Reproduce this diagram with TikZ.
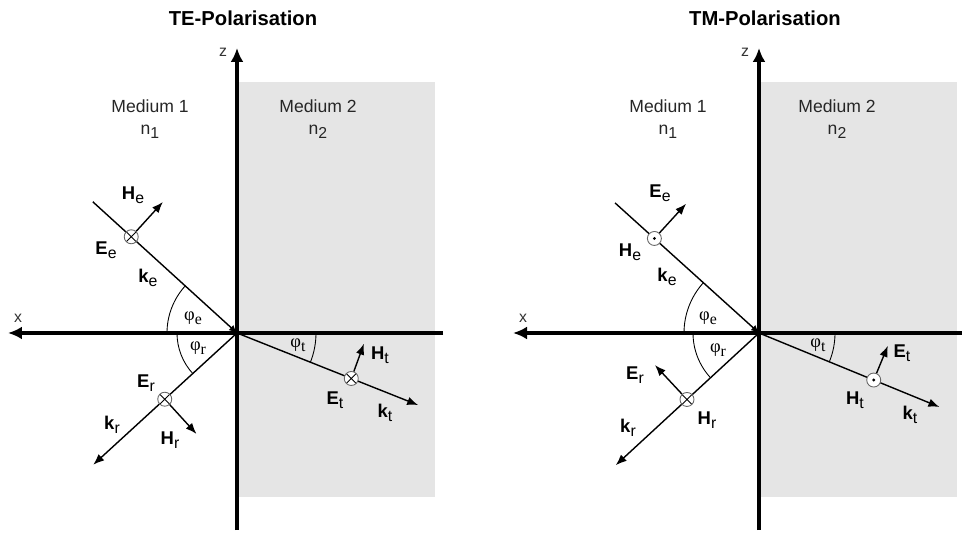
\documentclass[tikz,border=0pt]{standalone}
\usepackage{fontspec}
\setmainfont{Liberation Sans}
\newfontfamily\serifgr{Liberation Serif}
\usetikzlibrary{arrows.meta, positioning}

\newcommand{\lowsub}[1]{\raisebox{-0.45ex}{\fontsize{9}{9}\selectfont\mdseries #1}}
\newcommand{\vlab}[2]{\textbf{#1}\lowsub{#2}}
\newcommand{\ang}[1]{{\serifgr φ\lowsub{#1}}}

\begin{document}
\begin{tikzpicture}[
    x=0.02cm, y=0.02cm,
    % Style definitions
    axis/.style={line width=2.2pt, -{Latex[length=2.8mm, width=2.6mm]}},
    ray/.style={line width=0.8pt},
    vec/.style={line width=0.8pt, -{Latex[length=2.2mm, width=1.7mm]}},
    medium/.style={fill=black!10, draw=none},
    title/.style={font=\fontsize{11.5}{12}\selectfont\bfseries},
    mtext/.style={font=\fontsize{10}{12.5}\selectfont, text=black!85, align=center},
    lab/.style={font=\fontsize{10.5}{11}\selectfont, inner sep=0pt},
    axlab/.style={font=\fontsize{9}{9}\selectfont, text=black!80, inner sep=0pt},
    into/.style={circle, draw=black!60, fill=white, line width=0.5pt, minimum size=0.28cm, inner sep=0pt,
                 path picture={\draw[black, line width=0.5pt] (path picture bounding box.north west) -- (path picture bounding box.south east)
                                  (path picture bounding box.north east) -- (path picture bounding box.south west);}},
    outof/.style={circle, draw=black!60, fill=white, line width=0.5pt, minimum size=0.28cm, inner sep=0pt,
                  path picture={\fill[black] (path picture bounding box.center) circle (0.9pt);}},
]
\useasboundingbox (-237,-200) rectangle (725,333);

% ---------- TE panel ----------
\begin{scope}
\fill[medium] (0,251) rectangle (198,-164);
\coordinate (O1) at (0,0);
\coordinate (zt1) at (0,285);
\coordinate (zb1) at (0,-197);
\coordinate (xl1) at (-229,0);
\coordinate (xr1) at (206,0);
\draw[axis] (zb1) -- (zt1);
\draw[axis] (xr1) -- (xl1);

\node[title] (te) at (6,315) {TE-Polarisation};
\node[axlab] (zlab1) at (-14,281) {z};
\node[axlab] (xlab1) at (-219,15) {x};
\node[mtext] (med11) at (-87,214) {Medium 1\\n\lowsub{1}};
\node[mtext] (med12) at (81,214) {Medium 2\\n\lowsub{2}};

% rays
\coordinate (ke1) at (137.7:195);
\coordinate (kr1) at (222.5:195);
\coordinate (kt1) at (-21.7:195);
\draw[ray, -{Latex[length=1.6mm, width=1.4mm]}] (ke1) -- (O1);
\draw[vec] (O1) -- (kr1);
\draw[vec] (O1) -- (kt1);

% angles
\draw[line width=0.5pt] (-70,0) arc (180:137.7:70);
\draw[line width=0.5pt] (-60,0) arc (180:222.5:60);
\draw[line width=0.5pt] (79,0) arc (0:-21.7:79);
\node[lab] (pe1) at (-44,15) {\ang{e}};
\node[lab] (pr1) at (-39,-15) {\ang{r}};
\node[lab] (pt1) at (61,-12) {\ang{t}};

% field vectors
\node[into] (ce1) at (137.7:143) {};
\node[into] (cr1) at (222.5:98) {};
\node[into] (ct1) at (-21.7:123) {};
\coordinate (he1) at ([shift={(47.7:47)}]ce1);
\coordinate (hr1) at ([shift={(-47.6:47)}]cr1);
\coordinate (ht1) at ([shift={(70:37)}]ct1);
\draw[vec] (ce1) -- (he1);
\draw[vec] (cr1) -- (hr1);
\draw[vec] (ct1) -- (ht1);

\node[lab] (lhe1) at (-104,138) {\vlab{H}{e}};
\node[lab] (lee1) at (-131,83) {\vlab{E}{e}};
\node[lab] (lke1) at (-89,55) {\vlab{k}{e}};
\node[lab] (ler1) at (-91,-50) {\vlab{E}{r}};
\node[lab] (lkr1) at (-125,-92) {\vlab{k}{r}};
\node[lab] (lhr1) at (-67,-107) {\vlab{H}{r}};
\node[lab] (lht1) at (143,-22) {\vlab{H}{t}};
\node[lab] (let1) at (98,-67) {\vlab{E}{t}};
\node[lab] (lkt1) at (148,-80) {\vlab{k}{t}};
\end{scope}

% ---------- TM panel ----------
\begin{scope}[shift={(522,0)}]
\fill[medium] (0,251) rectangle (198,-164);
\coordinate (O2) at (0,0);
\coordinate (zt2) at (0,285);
\coordinate (zb2) at (0,-197);
\coordinate (xl2) at (-246,0);
\coordinate (xr2) at (203,0);
\draw[axis] (zb2) -- (zt2);
\draw[axis] (xr2) -- (xl2);

\node[title] (tm) at (6,315) {TM-Polarisation};
\node[axlab] (zlab2) at (-14,281) {z};
\node[axlab] (xlab2) at (-236,15) {x};
\node[mtext] (med21) at (-91,214) {Medium 1\\n\lowsub{1}};
\node[mtext] (med22) at (78,214) {Medium 2\\n\lowsub{2}};

% rays
\coordinate (ke2) at (137.9:194);
\coordinate (kr2) at (222.7:195);
\coordinate (kt2) at (-22.3:195);
\draw[ray, -{Latex[length=1.6mm, width=1.4mm]}] (ke2) -- (O2);
\draw[vec] (O2) -- (kr2);
\draw[vec] (O2) -- (kt2);

% angles
\draw[line width=0.5pt] (-75,0) arc (180:137.9:75);
\draw[line width=0.5pt] (-66,0) arc (180:222.7:66);
\draw[line width=0.5pt] (76,0) arc (0:-22.3:76);
\node[lab] (pe2) at (-51,15) {\ang{e}};
\node[lab] (pr2) at (-41,-17) {\ang{r}};
\node[lab] (pt2) at (59,-12) {\ang{t}};

% field vectors
\node[outof] (ce2) at (137.9:141) {};
\node[into] (cr2) at (222.7:98) {};
\node[outof] (ct2) at (-22.3:124) {};
\coordinate (ee2) at ([shift={(47.6:47)}]ce2);
\coordinate (er2) at ([shift={(133:47)}]cr2);
\coordinate (et2) at ([shift={(67.6:37)}]ct2);
\draw[vec] (ce2) -- (ee2);
\draw[vec] (cr2) -- (er2);
\draw[vec] (ct2) -- (et2);

\node[lab] (lee2) at (-99,140) {\vlab{E}{e}};
\node[lab] (lhe2) at (-129,81) {\vlab{H}{e}};
\node[lab] (lke2) at (-92,56) {\vlab{k}{e}};
\node[lab] (ler2) at (-124,-42) {\vlab{E}{r}};
\node[lab] (lhr2) at (-52,-87) {\vlab{H}{r}};
\node[lab] (lkr2) at (-131,-95) {\vlab{k}{r}};
\node[lab] (lht2) at (96,-67) {\vlab{H}{t}};
\node[lab] (let2) at (143,-20) {\vlab{E}{t}};
\node[lab] (lkt2) at (151,-82) {\vlab{k}{t}};
\end{scope}

\end{tikzpicture}
\end{document}
